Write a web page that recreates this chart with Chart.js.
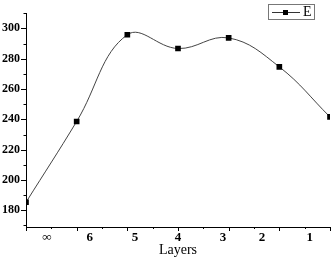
<!DOCTYPE html>
<html>
<head>
<meta charset="utf-8">
<script src="https://cdn.jsdelivr.net/npm/chart.js@4/dist/chart.umd.min.js"></script>
<style>
  html, body { margin: 0; padding: 0; background: #fff; }
  #wrap { width: 334px; height: 259px; }
</style>
</head>
<body>
<div id="wrap"><canvas id="layersChart"></canvas></div>
<script>
  // data
  const layerNames = ['∞', '6', '5', '4', '3', '2', '1'];
  const layerPos = [0, 1, 2, 3, 4, 5, 6];              // where each sample sits on the x axis
  const eValues = [185.3, 238.6, 295.8, 286.7, 293.7, 274.6, 241.6];
  const labelPos = [0.41, 1.26, 2.15, 3.0, 3.89, 4.66, 5.6]; // where the text labels sit
  const yTickValues = [180, 200, 220, 240, 260, 280, 300];

  const serif = '"Liberation Serif", "DejaVu Serif", serif';

  // small outward tick marks, Origin style (major + minor)
  const tickMarks = {
    id: 'tickMarks',
    afterDraw(chart) {
      const c = chart.ctx;
      const xs = chart.scales.x, ys = chart.scales.y;
      c.save();
      c.strokeStyle = '#000';
      c.lineWidth = 1;
      c.beginPath();
      for (let v = 0; v <= 6.001; v += 0.5) {
        const px = Math.round(xs.getPixelForValue(v)) + 0.5;
        const len = Number.isInteger(v) ? 4 : 2;
        c.moveTo(px, ys.bottom);
        c.lineTo(px, ys.bottom + len);
      }
      for (let v = 170; v <= 310; v += 10) {
        const py = Math.round(ys.getPixelForValue(v)) + 0.5;
        const len = v % 20 === 0 ? 5 : 2.5;
        c.moveTo(xs.left, py);
        c.lineTo(xs.left - len, py);
      }
      c.stroke();
      c.restore();
    }
  };

  // boxed legend "—■— E" in the top right corner
  const boxLegend = {
    id: 'boxLegend',
    afterDraw(chart) {
      const c = chart.ctx;
      c.save();
      c.strokeStyle = '#777';
      c.lineWidth = 1;
      c.strokeRect(268.5, 4.5, 46, 15);
      c.strokeStyle = '#333';
      c.beginPath();
      c.moveTo(272, 12.5);
      c.lineTo(300, 12.5);
      c.stroke();
      c.fillStyle = '#000';
      c.fillRect(283, 10, 5, 5);
      c.font = '14px ' + serif;
      c.textBaseline = 'middle';
      c.fillText(chart.data.datasets[0].label, 303, 12.5);
      c.restore();
    }
  };

  const ctx = document.getElementById('layersChart').getContext('2d');
  const layersChart = new Chart(ctx, {
    type: 'line',
    data: {
      datasets: [{
        label: 'E',
        data: layerPos.map((x, i) => ({ x: x, y: eValues[i] })),
        borderColor: '#444',
        borderWidth: 1,
        backgroundColor: '#000',
        pointStyle: 'rect',
        pointRadius: 4,
        pointBorderWidth: 0,
        pointBackgroundColor: '#000',
        tension: 0.4,
        clip: 0
      }]
    },
    options: {
      responsive: true,
      maintainAspectRatio: false,
      animation: false,
      layout: { padding: { top: 4, right: 3, left: 0, bottom: 0 } },
      plugins: {
        legend: { display: false },
        tooltip: { enabled: false }
      },
      scales: {
        x: {
          type: 'linear',
          min: 0,
          max: 6,
          afterBuildTicks: (axis) => {
            axis.ticks = labelPos.map(v => ({ value: v }));
          },
          afterFit: (axis) => { axis.height = 32; },
          ticks: {
            autoSkip: false,
            maxRotation: 0,
            padding: 3,
            color: '#000',
            font: { family: serif, size: 13, weight: 'bold' },
            callback: (value, index) => layerNames[index]
          },
          grid: { display: true, drawOnChartArea: false, drawTicks: false },
          border: { display: true, color: '#000', width: 1 },
          title: {
            display: true,
            text: 'Layers',
            color: '#000',
            font: { family: serif, size: 14 },
            padding: { top: 0, bottom: 0 }
          }
        },
        y: {
          min: 169,
          max: 310,
          afterBuildTicks: (axis) => {
            axis.ticks = yTickValues.map(v => ({ value: v }));
          },
          afterFit: (axis) => { axis.width = 26; },
          ticks: {
            padding: 6,
            color: '#000',
            font: { family: serif, size: 12, weight: 'bold' }
          },
          grid: { display: true, drawOnChartArea: false, drawTicks: false },
          border: { display: true, color: '#000', width: 1 }
        }
      }
    },
    plugins: [tickMarks, boxLegend]
  });
</script>
</body>
</html>
